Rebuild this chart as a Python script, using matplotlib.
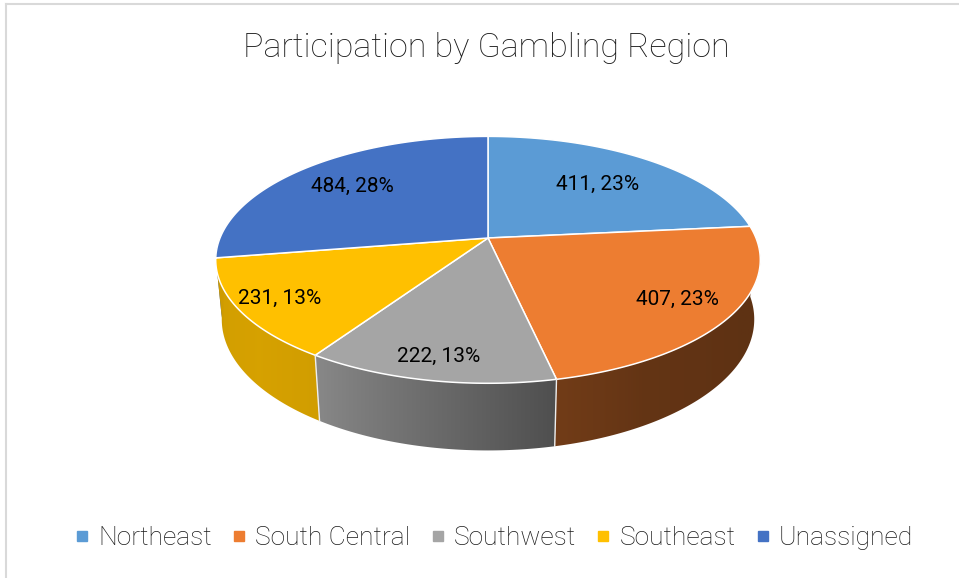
import numpy as np
import matplotlib.pyplot as plt
from matplotlib.patches import Polygon
from matplotlib.lines import Line2D
from matplotlib.colors import to_rgb

regions = ["Northeast", "South Central", "Southwest", "Southeast", "Unassigned"]
counts = [411, 407, 222, 231, 484]
colors = ["#5B9BD5", "#ED7D31", "#A5A5A5", "#FFC000", "#4472C4"]

# 3d pie look (excel style): tilt, camera distance, thickness
tilt = np.radians(26.5)
cam = 5.06
thick = 0.25
scale = 268
cx, cy = 488, 238
label_r = [0.66, 0.8, 0.86, 0.85, 0.72]

# side wall shading by angle (light comes from the left)
shade_ang = [-180, -165, -140, -123, -100, -78, -60, -30, 0]
shade_val = [0.80, 0.82, 0.84, 0.82, 0.65, 0.48, 0.42, 0.40, 0.40]


def proj(x, y, z):
    yv = y * np.sin(tilt) + z * np.cos(tilt)
    d = y * np.cos(tilt) - z * np.sin(tilt)
    s = cam / (cam + d)
    return cx + scale * x * s, cy - scale * yv * s


def pt(a, z=0.0, r=1.0):
    a = np.radians(a)
    return proj(r * np.cos(a), r * np.sin(a), z)


plt.rcParams['font.family'] = ['Roboto', 'DejaVu Sans']
fig = plt.figure(figsize=(9.59, 5.78), dpi=100)
ax = fig.add_axes([0, 0, 1, 1])
ax.set_xlim(0, 959)
ax.set_ylim(578, 0)
ax.axis('off')

# chart border (only top and left visible in the crop)
ax.plot([6, 6], [578, 4], color="#d9d9d9", lw=1.5)
ax.plot([6, 959], [4, 4], color="#d9d9d9", lw=1.5)

total = sum(counts)
fracs = [c / total for c in counts]
edges = [90.0]
for f in fracs:
    edges.append(edges[-1] - f * 360)

# side walls, gradient image clipped to each wedge's wall
ang_s = np.linspace(-180, 0, 721)
x_s = np.array([pt(a, -thick / 2)[0] for a in ang_s])
order = np.argsort(x_s)
walls = []
for i, col in enumerate(colors):
    lo, hi = max(edges[i + 1], -180), min(edges[i], 0)
    if hi <= lo:
        continue
    aa = np.linspace(lo, hi, 200)
    poly = [pt(a) for a in aa] + [pt(a, -thick) for a in aa[::-1]]
    walls.append((np.sin(np.radians((lo + hi) / 2)), col, poly))

walls.sort(key=lambda w: -w[0])
for _, col, poly in walls:
    p = np.array(poly)
    x0, x1 = p[:, 0].min() - 2, p[:, 0].max() + 2
    y0, y1 = p[:, 1].min() - 2, p[:, 1].max() + 2
    xs = np.linspace(x0, x1, 300)
    sh = np.interp(xs, x_s[order], np.interp(ang_s[order], shade_ang, shade_val))
    img = np.array(to_rgb(col))[None, None, :] * sh[None, :, None]
    patch = Polygon(poly, closed=True, facecolor='none', edgecolor='none')
    ax.add_patch(patch)
    im = ax.imshow(img, extent=(x0, x1, y1, y0), aspect='auto', interpolation='bilinear')
    im.set_clip_path(patch)

ax.set_xlim(0, 959)
ax.set_ylim(578, 0)

for a in edges[1:-1]:
    if np.sin(np.radians(a)) < -0.3:
        p0, p1 = pt(a), pt(a, -thick)
        ax.plot([p0[0], p1[0]], [p0[1], p1[1]], color="#eeeeee", lw=1)

# top faces
for i, col in enumerate(colors):
    aa = np.linspace(edges[i], edges[i + 1], 200)
    poly = [proj(0, 0, 0)] + [pt(a) for a in aa]
    ax.add_patch(Polygon(poly, closed=True, facecolor=col, edgecolor="white", lw=1.1))

# data labels
for i in range(len(counts)):
    mid = (edges[i] + edges[i + 1]) / 2
    x, y = pt(mid, 0, label_r[i])
    ax.text(x, y, f"{counts[i]}, {fracs[i] * 100:.0f}%", ha='center', va='center',
            fontsize=15, color='black')

fig.text(0.507, 0.917, "Participation by Gambling Region", ha='center', va='center',
         fontsize=24.5, fontweight='light', color='#1a1a1a')

handles = [Line2D([], [], marker='s', linestyle='', markersize=7, color=c) for c in colors]
leg = fig.legend(handles, regions, loc='center', bbox_to_anchor=(0.514, 0.069), ncol=5,
                 frameon=False, handlelength=0.7, handletextpad=0.25, columnspacing=0.7,
                 prop={'size': 19, 'weight': 'light'})
for t in leg.get_texts():
    t.set_color('#1a1a1a')

fig.savefig("out.png", dpi=100)
